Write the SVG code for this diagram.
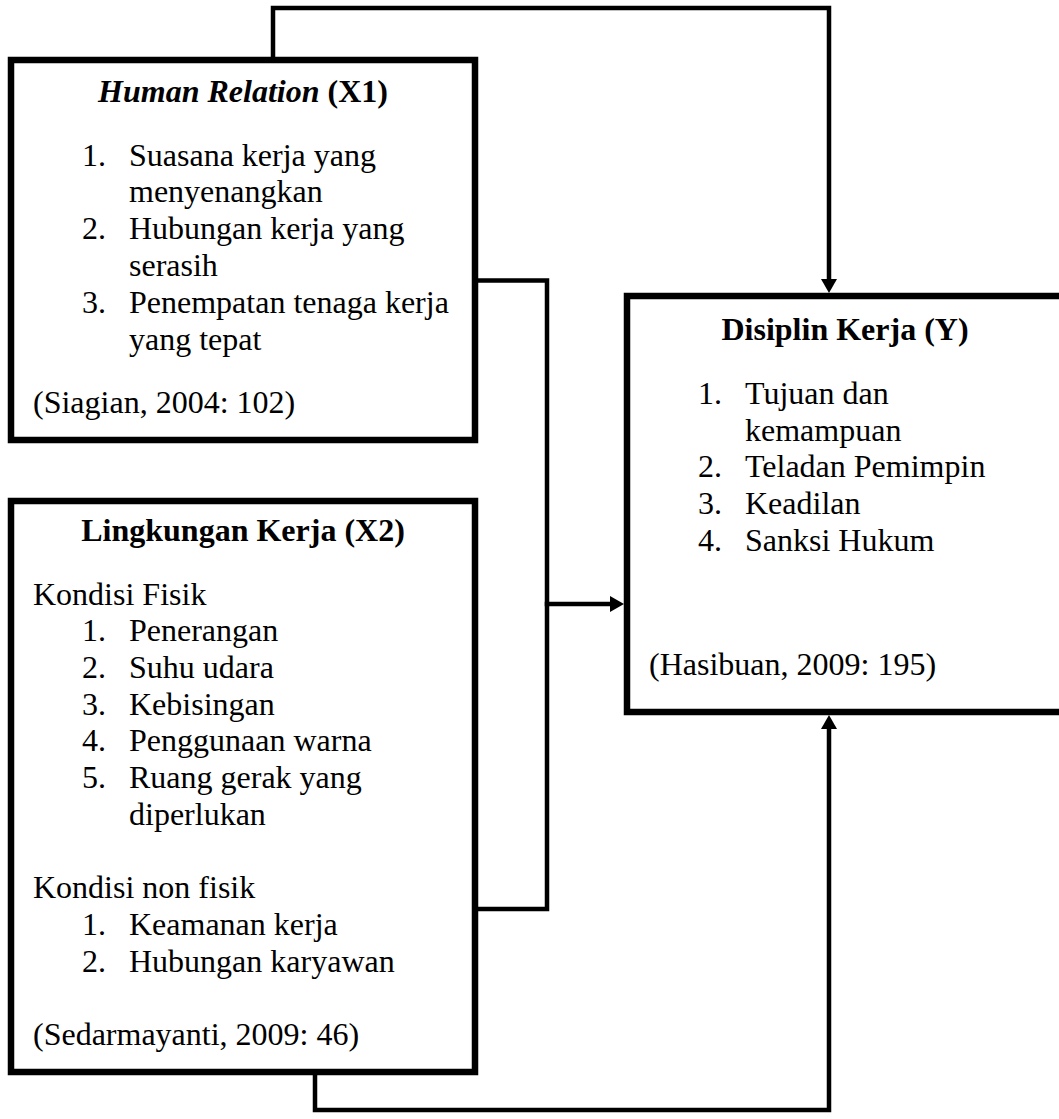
<svg xmlns="http://www.w3.org/2000/svg" width="1059" height="1119" viewBox="0 0 1059 1119">
<style>
.box{fill:#fff;stroke:#000;stroke-width:6.5}
.conn{fill:none;stroke:#000;stroke-width:4.5;stroke-linejoin:miter;stroke-linecap:square}
text{font-family:"Liberation Serif","Times New Roman",serif;font-size:32px;fill:#000}
.h{font-weight:bold;text-anchor:middle}
.i{font-style:italic}
</style>
<defs>
<marker id="arr" markerUnits="userSpaceOnUse" markerWidth="14" markerHeight="16" refX="0" refY="8" orient="auto" viewBox="0 0 14 16">
<path d="M0,0 L14,8 L0,16 z" fill="#000"/>
</marker>
</defs>
<rect width="1059" height="1119" fill="#fff"/>
<g id="connectors">
<path class="conn" d="M273,57 V8 H829 V279" marker-end="url(#arr)"/>
<path class="conn" d="M478,280.5 H547 V909 H478"/>
<path class="conn" d="M547,604 H610" stroke-linecap="butt" marker-end="url(#arr)"/>
<path class="conn" d="M315,1075 V1110 H829 V729" marker-end="url(#arr)"/>
</g>
<g id="x1">
<rect class="box" x="11" y="60" width="464" height="380"/>
<text class="h" x="243" y="102"><tspan class="i">Human Relation</tspan> (X1)</text>
<text x="82" y="166">1.</text><text x="129" y="166">Suasana kerja yang</text>
<text x="129" y="202">menyenangkan</text>
<text x="82" y="239">2.</text><text x="129" y="239">Hubungan kerja yang</text>
<text x="129" y="276">serasih</text>
<text x="82" y="313">3.</text><text x="129" y="313">Penempatan tenaga kerja</text>
<text x="129" y="350">yang tepat</text>
<text x="33" y="413">(Siagian, 2004: 102)</text>
</g>
<g id="x2">
<rect class="box" x="11" y="501" width="464" height="571"/>
<text class="h" x="243" y="541">Lingkungan Kerja (X2)</text>
<text x="33" y="605">Kondisi Fisik</text>
<text x="82" y="641">1.</text><text x="129" y="641">Penerangan</text>
<text x="82" y="678">2.</text><text x="129" y="678">Suhu udara</text>
<text x="82" y="715">3.</text><text x="129" y="715">Kebisingan</text>
<text x="82" y="751">4.</text><text x="129" y="751">Penggunaan warna</text>
<text x="82" y="788">5.</text><text x="129" y="788">Ruang gerak yang</text>
<text x="129" y="825">diperlukan</text>
<text x="33" y="898">Kondisi non fisik</text>
<text x="82" y="935">1.</text><text x="129" y="935">Keamanan kerja</text>
<text x="82" y="972">2.</text><text x="129" y="972">Hubungan karyawan</text>
<text x="33" y="1045">(Sedarmayanti, 2009: 46)</text>
</g>
<g id="y">
<rect class="box" x="627" y="296" width="436" height="416"/>
<text class="h" x="845" y="340">Disiplin Kerja (Y)</text>
<text x="698" y="404">1.</text><text x="745" y="404">Tujuan dan</text>
<text x="745" y="441">kemampuan</text>
<text x="698" y="477">2.</text><text x="745" y="477">Teladan Pemimpin</text>
<text x="698" y="514">3.</text><text x="745" y="514">Keadilan</text>
<text x="698" y="551">4.</text><text x="745" y="551">Sanksi Hukum</text>
<text x="649" y="675">(Hasibuan, 2009: 195)</text>
</g>
</svg>
